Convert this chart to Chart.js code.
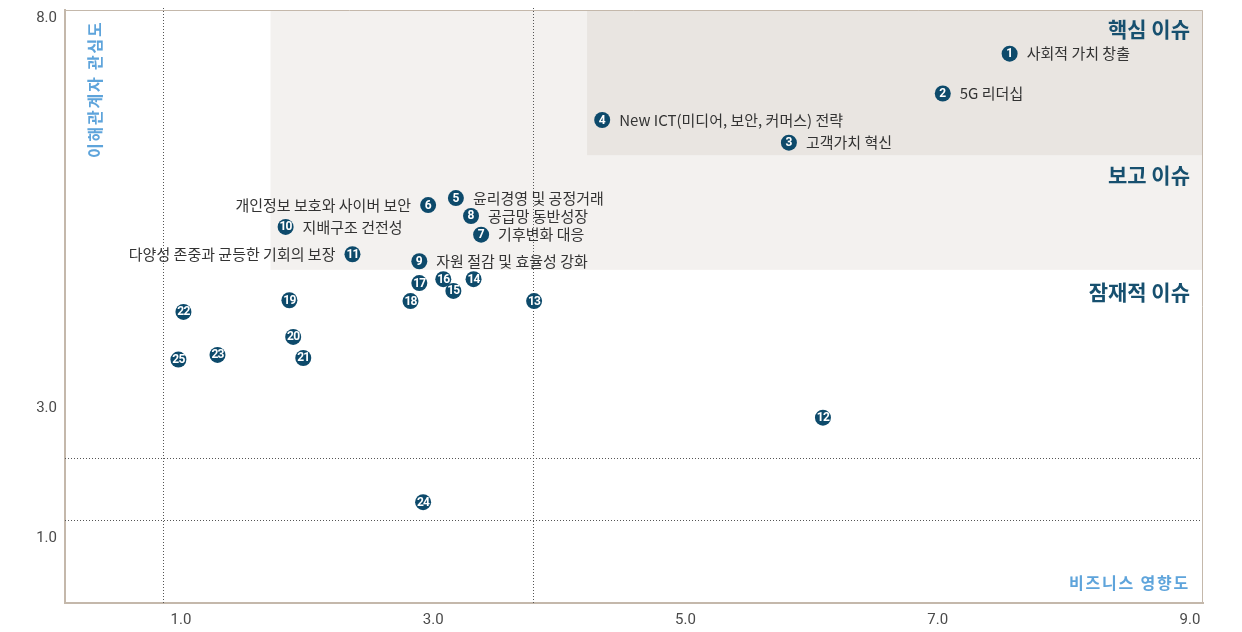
<!DOCTYPE html>
<html>
<head>
<meta charset="utf-8">
<script src="https://cdn.jsdelivr.net/npm/chart.js@4.4.1/dist/chart.umd.min.js"></script>
<style>
  html, body { margin: 0; padding: 0; background: #fff; }
  #wrap { width: 1242px; height: 632px; }
</style>
</head>
<body>
<div id="wrap"><canvas id="myChart"></canvas></div>
<script>
// 이슈 번호, 이름, 비즈니스 영향도(x), 이해관계자 관심도(y)
var issueNo = [1, 2, 3, 4, 5, 6, 7, 8, 9, 10, 11, 12, 13, 14, 15, 16, 17, 18, 19, 20, 21, 22, 23, 24, 25];
var issueName = [
  "사회적 가치 창출", "5G 리더십", "고객가치 혁신", "New ICT(미디어, 보안, 커머스) 전략",
  "윤리경영 및 공정거래", "개인정보 보호와 사이버 보안", "기후변화 대응", "공급망 동반성장",
  "자원 절감 및 효율성 강화", "지배구조 건전성", "다양성 존중과 균등한 기회의 보장",
  "", "", "", "", "", "", "", "", "", "", "", "", "", ""
];
var impact = [7.57, 7.04, 5.82, 4.34, 3.18, 2.96, 3.38, 3.30, 2.89, 1.83, 2.36, 6.09, 3.80,
  3.32, 3.16, 3.08, 2.89, 2.82, 1.86, 1.89, 1.97, 1.02, 1.29, 2.92, 0.98];
var concern = [7.54, 7.03, 6.40, 6.69, 5.69, 5.60, 5.22, 5.46, 4.88, 5.32, 4.97, 2.85, 4.37,
  4.65, 4.50, 4.65, 4.60, 4.37, 4.38, 3.91, 3.64, 4.23, 3.68, 1.55, 3.62];
var leftLabel = [6, 11];

var xTicks = [1, 3, 5, 7, 9];
var yTicks = [1, 3, 8];

// 구간 경계 (영역, 점선)
var reportZone = { x: 1.71, y: 4.77 };
var coreZone = { x: 4.22, y: 6.24 };
var xDivide = [0.86, 3.79];
var yDivide = [2.23, 1.28];

// 세로축: 3.0 아래는 눈금 간격이 좁다 (5:6)
var yBreaks = [0, 3, 8.1];
var yWeight = [5, 6];

class SplitScale extends Chart.LinearScale {
  _fracs() {
    var total = 0, acc = [0];
    for (var i = 0; i < yWeight.length; i++) {
      total += (yBreaks[i + 1] - yBreaks[i]) * yWeight[i];
      acc.push(total);
    }
    return acc.map(function (a) { return a / total; });
  }
  getPixelForValue(v) {
    if (v === null || v === undefined) return NaN;
    var f = this._fracs(), n = yBreaks.length - 1, i = 1;
    while (i < n && v > yBreaks[i]) i++;
    var d = f[i - 1] + (v - yBreaks[i - 1]) / (yBreaks[i] - yBreaks[i - 1]) * (f[i] - f[i - 1]);
    return this.getPixelForDecimal(d);
  }
  getValueForPixel(p) {
    var d = this.getDecimalForPixel(p);
    var f = this._fracs(), n = yBreaks.length - 1, i = 1;
    while (i < n && d > f[i]) i++;
    return yBreaks[i - 1] + (d - f[i - 1]) / (f[i] - f[i - 1]) * (yBreaks[i] - yBreaks[i - 1]);
  }
}
SplitScale.id = "split";
SplitScale.defaults = Chart.LinearScale.defaults;
Chart.register(SplitScale);

var navy = "#0d4a6b";
var frameColor = "#c4b8ab";
var titleBlue = "#5ea4db";
var zoneTitle = "#17506f";
var kr = '"Noto Sans CJK KR", "Noto Sans", sans-serif';

var points = issueNo.map(function (n, i) { return { x: impact[i], y: concern[i] }; });

var zones = {
  id: "zones",
  beforeDraw: function (chart) {
    var ctx = chart.ctx, a = chart.chartArea;
    var xs = chart.scales.x, ys = chart.scales.y;
    ctx.save();
    ctx.fillStyle = "#f3f1ef";
    var rx = xs.getPixelForValue(reportZone.x), ry = ys.getPixelForValue(reportZone.y);
    ctx.fillRect(rx, a.top, a.right - rx, ry - a.top);
    ctx.fillStyle = "#e9e5e1";
    var cx = xs.getPixelForValue(coreZone.x), cy = ys.getPixelForValue(coreZone.y);
    ctx.fillRect(cx, a.top, a.right - cx, cy - a.top);
    ctx.restore();
  },
  beforeDatasetsDraw: function (chart) {
    var ctx = chart.ctx, a = chart.chartArea;
    var xs = chart.scales.x, ys = chart.scales.y;
    ctx.save();
    // 점선
    ctx.strokeStyle = "#555";
    ctx.lineWidth = 1;
    ctx.setLineDash([1, 2]);
    xDivide.forEach(function (v) {
      var px = Math.round(xs.getPixelForValue(v)) + 0.5;
      ctx.beginPath(); ctx.moveTo(px, a.top - 2); ctx.lineTo(px, a.bottom); ctx.stroke();
    });
    yDivide.forEach(function (v) {
      var py = Math.round(ys.getPixelForValue(v)) + 0.5;
      ctx.beginPath(); ctx.moveTo(a.left, py); ctx.lineTo(a.right + 2, py); ctx.stroke();
    });
    ctx.setLineDash([]);
    // 위, 오른쪽 테두리
    ctx.strokeStyle = frameColor;
    ctx.lineWidth = 1;
    ctx.beginPath();
    ctx.moveTo(a.left, a.top + 0.5); ctx.lineTo(a.right - 0.5, a.top + 0.5); ctx.lineTo(a.right - 0.5, a.bottom);
    ctx.stroke();

    // 영역 이름
    ctx.fillStyle = zoneTitle;
    ctx.font = "bold 21px " + kr;
    ctx.textAlign = "right";
    ctx.textBaseline = "middle";
    var tx = a.right - 13;
    ctx.fillText("핵심 이슈", tx, a.top + 19);
    ctx.fillText("보고 이슈", tx, ys.getPixelForValue(coreZone.y) + 20);
    ctx.fillText("잠재적 이슈", tx, ys.getPixelForValue(reportZone.y) + 22);

    // 축 이름
    ctx.fillStyle = titleBlue;
    ctx.font = "bold 16px " + kr;
    ctx.letterSpacing = "1.8px";
    ctx.fillText("비즈니스 영향도", tx, a.bottom - 20);
    ctx.translate(a.left + 30, a.top + 148);
    ctx.rotate(-Math.PI / 2);
    ctx.textAlign = "left";
    ctx.fillText("이해관계자 관심도", 0, 0);
    ctx.restore();
  },
  afterDatasetsDraw: function (chart) {
    var ctx = chart.ctx;
    var meta = chart.getDatasetMeta(0);
    ctx.save();
    ctx.textBaseline = "middle";
    meta.data.forEach(function (el, i) {
      ctx.fillStyle = "#fff";
      ctx.textAlign = "center";
      ctx.font = "bold 12px Roboto, sans-serif";
      ctx.letterSpacing = issueNo[i] > 9 ? "-0.8px" : "0px";
      ctx.fillText(String(issueNo[i]), el.x, el.y + 0.5);
      ctx.letterSpacing = "0px";
      if (issueName[i]) {
        ctx.fillStyle = "#333";
        ctx.font = "15px " + kr;
        if (leftLabel.indexOf(issueNo[i]) >= 0) {
          ctx.textAlign = "right";
          ctx.fillText(issueName[i], el.x - 17, el.y);
        } else {
          ctx.textAlign = "left";
          ctx.fillText(issueName[i], el.x + 17, el.y);
        }
      }
    });
    ctx.restore();
  }
};

new Chart("myChart", {
  type: "scatter",
  data: {
    datasets: [
      {
        label: "이슈",
        data: points,
        backgroundColor: navy,
        borderWidth: 0,
        pointRadius: 8,
        pointHoverRadius: 8,
      },
    ],
  },
  options: {
    responsive: true,
    maintainAspectRatio: false,
    animation: false,
    layout: { padding: { top: 10, right: 39, left: 0, bottom: 0 } },
    plugins: { legend: { display: false }, tooltip: { enabled: false } },
    scales: {
      x: {
        type: "linear",
        min: 0.081,
        max: 9.103,
        grid: { display: false, drawTicks: false },
        border: { color: frameColor, width: 2 },
        afterBuildTicks: function (s) { s.ticks = xTicks.map(function (v) { return { value: v }; }); },
        afterFit: function (s) { s.height = 29; s.paddingLeft = 0; s.paddingRight = 0; },
        ticks: {
          padding: 8,
          color: "#4a4a4a",
          font: { family: "Roboto, sans-serif", size: 15 },
          callback: function (v) { return Number(v).toFixed(1); },
        },
      },
      y: {
        type: "split",
        min: 0,
        max: 8.1,
        grid: { display: false, drawTicks: false },
        border: { color: frameColor, width: 2 },
        afterBuildTicks: function (s) { s.ticks = yTicks.map(function (v) { return { value: v }; }); },
        afterFit: function (s) { s.width = 65; s.paddingTop = 0; s.paddingBottom = 0; },
        ticks: {
          padding: 8,
          color: "#4a4a4a",
          font: { family: "Roboto, sans-serif", size: 15 },
          callback: function (v) { return Number(v).toFixed(1); },
        },
      },
    },
  },
  plugins: [zones],
});
</script>
</body>
</html>
